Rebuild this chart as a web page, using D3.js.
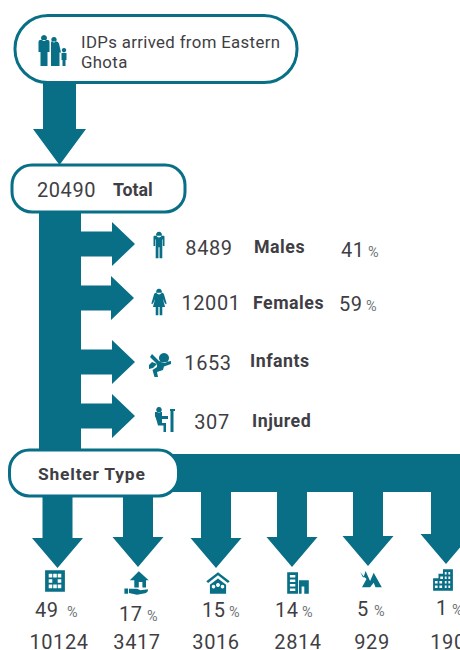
<!DOCTYPE html>
<html>
<head>
<meta charset="utf-8">
<script src="https://cdn.jsdelivr.net/npm/d3@7"></script>
<style>
  html, body { margin: 0; padding: 0; background: #fff; overflow: hidden; }
  svg { display: block; }
  text { font-family: Roboto, sans-serif; fill: #403e44; }
  .num { font-size: 20px; font-weight: 400; letter-spacing: 0.6px; }
  .lab { font-size: 17.8px; font-weight: 700; letter-spacing: 0.5px; }
  .pct { font-size: 14.5px; fill: #6f7478; }
</style>
</head>
<body>
<div id="chart"></div>
<script>
// values
var titleLines = ["IDPs arrived from Eastern", "Ghota"];
var totalValue = 20490;
var totalLabel = "Total";
var shelterTitle = "Shelter Type";

var rowNames = ["Males", "Females", "Infants", "Injured"];
var rowValues = [8489, 12001, 1653, 307];
var rowPercents = [41, 59, null, null];

var shelterKeys = ["collective", "host", "camp", "rented", "tent", "building"];
var shelterPercents = [49, 17, 15, 14, 5, 1];
var shelterCounts = [10124, 3417, 3016, 2814, 929, 190];

var width = 460, height = 650;
var teal = "#086f87";

var svg = d3.select("#chart").append("svg")
  .attr("width", width)
  .attr("height", height);

// placement of the rows and columns, looked up by category
var rowTip = d3.scaleOrdinal().domain(rowNames).range([135, 134, 135, 135]);
var rowY = d3.scaleOrdinal().domain(rowNames).range([244, 298, 362, 416]);
var rowIconX = d3.scaleOrdinal().domain(rowNames).range([159, 159, 160, 164]);
var rowIconY = d3.scaleOrdinal().domain(rowNames).range([245, 302, 365, 420]);
var rowValueX = d3.scaleOrdinal().domain(rowNames).range([209, 211, 208, 212]);
var rowValueY = d3.scaleOrdinal().domain(rowNames).range([255, 310, 370, 429]);
var rowLabelX = d3.scaleOrdinal().domain(rowNames).range([254, 253, 250, 252]);
var rowLabelY = d3.scaleOrdinal().domain(rowNames).range([253, 309, 367, 427]);
var rowPctX = d3.scaleOrdinal().domain(rowNames).range([341, 339, 0, 0]);
var rowPctY = d3.scaleOrdinal().domain(rowNames).range([257, 311, 0, 0]);

var colTipX = d3.scaleOrdinal().domain(shelterKeys).range([57.5, 138, 216, 292, 368, 446]);
var colTipY = d3.scaleOrdinal().domain(shelterKeys).range([568, 567, 568, 567, 566, 564]);
var colIconY = d3.scaleOrdinal().domain(shelterKeys).range([581, 583, 583, 583, 580, 580]);
var colIconX = d3.scaleOrdinal().domain(shelterKeys).range([55, 137, 218, 298, 371, 443]);
var colPctX = d3.scaleOrdinal().domain(shelterKeys).range([35, 119, 202, 275, 357, 436]);
var colPctY = d3.scaleOrdinal().domain(shelterKeys).range([617, 621, 617, 617, 616, 615]);
var colSignX = d3.scaleOrdinal().domain(shelterKeys).range([67, 147, 229, 302, 374, 452]);
var colCountX = d3.scaleOrdinal().domain(shelterKeys).range([59, 137, 216, 298, 372, 448]);

// block arrow pointing to the right
function arrowRight(shaftStart, tipX, y) {
  var p = d3.path();
  var headLen = 23, headHalf = 22, shaftHalf = 12.5;
  p.moveTo(shaftStart, y - shaftHalf);
  p.lineTo(tipX - headLen, y - shaftHalf);
  p.lineTo(tipX - headLen, y - headHalf);
  p.lineTo(tipX, y);
  p.lineTo(tipX - headLen, y + headHalf);
  p.lineTo(tipX - headLen, y + shaftHalf);
  p.lineTo(shaftStart, y + shaftHalf);
  p.closePath();
  return p.toString();
}

// block arrow pointing down
function arrowDown(x, shaftStart, tipY, shaftHalf, headHalf, headLen) {
  var p = d3.path();
  p.moveTo(x - shaftHalf, shaftStart);
  p.lineTo(x - shaftHalf, tipY - headLen);
  p.lineTo(x - headHalf, tipY - headLen);
  p.lineTo(x, tipY);
  p.lineTo(x + headHalf, tipY - headLen);
  p.lineTo(x + shaftHalf, tipY - headLen);
  p.lineTo(x + shaftHalf, shaftStart);
  p.closePath();
  return p.toString();
}

// ---- the flow shapes ----
var flow = svg.append("g").attr("fill", teal);

flow.append("path").attr("d", arrowDown(59.5, 80, 165, 16.5, 26.5, 36));
flow.append("rect").attr("x", 39).attr("y", 205).attr("width", 42).attr("height", 250);
flow.append("rect").attr("x", 150).attr("y", 454).attr("width", 310).attr("height", 38);

flow.selectAll(".side").data(rowNames).enter().append("path")
  .attr("class", "side")
  .attr("d", function(d) { return arrowRight(78, rowTip(d), rowY(d)); });

flow.selectAll(".down").data(shelterKeys).enter().append("path")
  .attr("class", "down")
  .attr("d", function(d) { return arrowDown(colTipX(d), 485, colTipY(d), 15, 25.5, 30); });

// ---- the rounded boxes ----
function pill(x, y, w, h, r) {
  svg.append("rect")
    .attr("x", x).attr("y", y).attr("width", w).attr("height", h).attr("rx", r)
    .attr("fill", "#fff").attr("stroke", teal).attr("stroke-width", 3);
}
pill(15, 15.5, 282, 67, 33);
pill(12, 165, 173, 47, 20);
pill(9.5, 450, 169, 46, 20);

// ---- icons, drawn in a 24 x 24 box around 0,0 ----
var icons = {
  male: "M0-12a2.600 2.600 0 1 1-.01 0ZM-4-8.500H4Q5-8.500 5-7.500V1H3.500V-5H3V12H.5V2H-.5V12H-3V-5H-3.500V1H-5V-7.500Q-5-8.500-4-8.500Z",
  female: "M0-12a2.600 2.600 0 1 1-.01 0ZM-3-8.500H3Q4-8.500 4.500-7L7 1.500H5.500L3.500-3 5.500 4.500H3V12H.6V4.500H-.6V12H-3V4.500H-5.500L-3.500-3-5.500 1.500H-7L-4.500-7Q-4-8.500-3-8.500Z",
  infant: "M4-12a5 5 0 1 1-.01 0ZM-8-11L-4-7-1-4 3-2.500 11-4V-1L4 1.500 3 5-3 7-2 12H-5.500L-7.500 5-3 2-3-1-10-8ZM-8-3L-3-1-7 3-11 4-11 0Z",
  injured: "M-5-13a2.800 2.800 0 1 1-.01 0ZM-9-8H-2V-4H4V-1H-2V3H2V12H-.5V5.500H-6Q-9-5.500-9-3ZM6-11H11V-9H9.500V12H6.500V-9H6Z",
  family: "M-9-16a3 3 0 1 1-.01 0ZM-13-11H-5Q-3.500-11-3.500-9V1H-5.500V15H-12.500V1H-14.500V-9Q-14.500-11-13-11ZM1-14a2.700 2.700 0 1 1-.01 0ZM-1.500-9.500H3.500Q5-9.500 6-7.500L8 1.500H6.500V15H-2V1H-2V-8Q-2-9.500-1.500-9.500ZM11-3a2.200 2.200 0 1 1-.01 0ZM8.500 2H13.500V9H12.500V15H9.500V9H8.500Z",
  collective: "M-11-12H11V12H-11ZM-7-8V-4H-3V-8ZM3-8V-4H7V-8ZM-7-2V2H-3V-2ZM3-2V2H7V-2ZM-7 4V8H-3V4ZM3 4V8H7V4ZM-2-8V-4H2V-8ZM-2 4V8H2V4Z",
  host: "M2-13L13-3H10V5H6V-1H2V5H-3V-3H-8ZM-14 6H-10V12H-14ZM-9 6.500H0L4 8 12 7Q13 10 9 11.500L0 13-9 11Z",
  camp: "M0-12L13-2 11 0 0-8.500-11 0-13-2ZM0-5L9 2V12H-9V2ZM-5 2a2 2 0 1 0 .01 0ZM5 2a2 2 0 1 0 .01 0ZM0 0a2.200 2.200 0 1 0 .01 0Z",
  rented: "M-12-12H0V12H-12ZM-9-9V-6H-3V-9ZM-9-4V-1H-3V-4ZM-9 1V4H-3V1ZM-9 6V9H-3V6ZM1-3H12V12H7V4H4V12H1Z",
  tent: "M-12-9L-8-4-6-10-1 1 3-8 12 8H5L3 3-1 8H-10L-5-1-7-3-9-3Z",
  building: "M-11-2H-5V-7H0V-12H11V12H-11ZM2-9V-6H4V-9ZM6-9V-6H8V-9ZM-3-4V-1H0V-4ZM2-4V-1H4V-4ZM6-4V-1H8V-4ZM-9 1V4H-6V1ZM-4 1V4H-1V1ZM2 1V4H4V1ZM6 1V4H8V1ZM-9 6V9H-6V6ZM-4 6V9H-1V6ZM2 6V9H4V6ZM6 6V9H8V6Z"
};
var rowIconKeys = ["male", "female", "infant", "injured"];

function icon(key, x, y, s) {
  svg.append("path")
    .attr("d", icons[key])
    .attr("fill", teal)
    .attr("fill-rule", "evenodd")
    .attr("transform", "translate(" + x + "," + y + ") scale(" + s + ")");
}
icon("family", 53, 51, 1);
rowNames.forEach(function(d, i) {
  icon(rowIconKeys[i], rowIconX(d), rowIconY(d), i < 2 ? 1.1 : 1);
});
shelterKeys.forEach(function(d) {
  icon(d, colIconX(d), colIconY(d), 0.9);
});

// ---- text ----
svg.selectAll(".title").data(titleLines).enter().append("text")
  .attr("class", "title")
  .attr("x", 81)
  .attr("y", function(d, i) { return i == 0 ? 48 : 67.5; })
  .style("font-size", "16.8px")
  .style("letter-spacing", "0.35px")
  .text(function(d) { return d; });

svg.append("text").attr("class", "num")
  .attr("x", 66.5).attr("y", 197).attr("text-anchor", "middle").text(totalValue);
svg.append("text").attr("class", "lab")
  .attr("x", 113).attr("y", 196).style("letter-spacing", "0").text(totalLabel);
svg.append("text").attr("class", "lab")
  .attr("x", 38).attr("y", 480).style("font-size", "17.4px").style("letter-spacing", "0.8px").text(shelterTitle);

rowNames.forEach(function(d, i) {
  svg.append("text").attr("class", "num")
    .attr("x", rowValueX(d)).attr("y", rowValueY(d)).attr("text-anchor", "middle").text(rowValues[i]);
  svg.append("text").attr("class", "lab")
    .attr("x", rowLabelX(d)).attr("y", rowLabelY(d)).text(d);
  if (rowPercents[i] != null) {
    svg.append("text").attr("class", "num")
      .attr("x", rowPctX(d)).attr("y", rowPctY(d)).text(rowPercents[i]);
    svg.append("text").attr("class", "pct")
      .attr("x", rowPctX(d) + 27).attr("y", rowPctY(d)).text("%");
  }
});

shelterKeys.forEach(function(d, i) {
  svg.append("text").attr("class", "num")
    .attr("x", colPctX(d)).attr("y", colPctY(d)).text(shelterPercents[i]);
  svg.append("text").attr("class", "pct")
    .attr("x", colSignX(d)).attr("y", colPctY(d)).text("%");
  svg.append("text").attr("class", "num")
    .attr("x", colCountX(d)).attr("y", 649).attr("text-anchor", "middle").text(shelterCounts[i]);
});
</script>
</body>
</html>
